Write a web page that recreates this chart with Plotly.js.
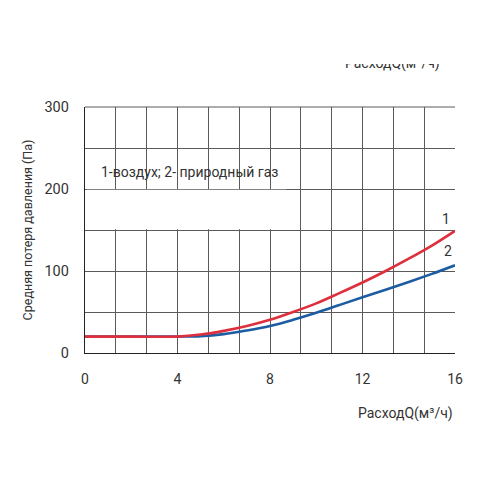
<!DOCTYPE html>
<html>
<head>
<meta charset="utf-8">
<script src="https://cdn.plot.ly/plotly-3.0.1.min.js"></script>
<style>html,body{margin:0;padding:0;background:#fff;}#chart{width:500px;height:500px;}</style>
</head>
<body>
<div id="chart"></div>
<script>
// Flow rate Q (m3/h)
const flowQ = [0, 2, 4, 5, 6, 7, 8, 9, 10, 11, 12, 13, 14, 15, 16];
// Curve 1 - air (Pa)
const airLoss = [20, 20, 20, 22.5, 27, 33, 40.5, 50, 60.5, 73, 86, 100, 115, 131, 149];
// Curve 2 - natural gas (Pa)
const gasLoss = [20, 20, 20, 20.5, 23, 27.5, 33, 40.5, 49, 58.5, 68, 77, 86.5, 96.5, 107];
const xTickVals = [0, 4, 8, 12, 16];
const xTickText = ['0', '4', '8', '12', '16'];
const yTickVals = [0, 100, 200, 300];
const yTickText = ['0', '100', '200', '300'];
const xTitle = 'РасходQ(м³/ч)';
const yTitle = 'Средняя потеря давления (Па)';
const legendNote = '1-воздух; 2- природный газ';

const F = 'Roboto, "Noto Sans", sans-serif';
const txt = '#333333';
const gridC = '#5a5a5a';

const traces = [
  {x: flowQ, y: gasLoss, mode: 'lines', line: {color: '#1c5ca2', width: 2.6, shape: 'spline'}, hoverinfo: 'skip'},
  {x: flowQ, y: airLoss, mode: 'lines', line: {color: '#de2f3d', width: 2.6, shape: 'spline'}, hoverinfo: 'skip'}
];

const layout = {
  width: 500, height: 500,
  margin: {l: 85, r: 45, t: 107, b: 147},
  paper_bgcolor: '#fff', plot_bgcolor: '#fff',
  showlegend: false,
  font: {family: F, size: 14, color: txt},
  xaxis: {
    range: [0, 16], tickmode: 'array', tickvals: xTickVals, ticktext: xTickText,
    showgrid: true, gridcolor: gridC, gridwidth: 1,
    minor: {dtick: 4/3, tick0: 0, showgrid: true, gridcolor: gridC, gridwidth: 1},
    showline: true, linecolor: '#222', linewidth: 1.2, mirror: false,
    zeroline: false, ticks: '', ticklabelstandoff: 13,
    tickfont: {family: F, size: 14, color: txt}
  },
  yaxis: {
    range: [0, 300], tickmode: 'array', tickvals: yTickVals, ticktext: yTickText,
    showgrid: true, gridcolor: gridC, gridwidth: 1,
    minor: {dtick: 50, tick0: 0, showgrid: true, gridcolor: gridC, gridwidth: 1},
    showline: true, linecolor: '#222', linewidth: 1.2,
    zeroline: false, ticks: '', ticklabelstandoff: 12,
    tickfont: {family: F, size: 14.5, color: txt},
    title: {text: yTitle, font: {family: F, size: 12.5, color: txt}, standoff: 9}
  },
  shapes: [
    {type: 'line', xref: 'paper', yref: 'paper', x0: 0, x1: 1, y0: 1, y1: 1, line: {color: gridC, width: 1}},
    {type: 'rect', xref: 'x', yref: 'y', x0: 0.06, x1: 8.7, y0: 151, y1: 199, fillcolor: '#fff', line: {width: 0}, layer: 'above'}
  ],
  annotations: [
    {text: legendNote, xref: 'paper', yref: 'paper', x: 14/370, y: (353-172)/246, xanchor: 'left', yanchor: 'middle', showarrow: false, font: {family: F, size: 14, color: txt}},
    {text: '1', xref: 'x', yref: 'y', x: 15.6, y: 164, showarrow: false, font: {family: F, size: 14, color: txt}},
    {text: '2', xref: 'x', yref: 'y', x: 15.7, y: 124, showarrow: false, font: {family: F, size: 14, color: txt}},
    {text: xTitle, xref: 'paper', yref: 'paper', x: 1, y: (353-413)/246, xanchor: 'right', yanchor: 'middle', showarrow: false, font: {family: F, size: 14, color: txt}},
    {text: xTitle, xref: 'paper', yref: 'paper', x: (442-85)/370, y: (353-74)/246, xanchor: 'right', yanchor: 'bottom', height: 8, valign: 'bottom', showarrow: false, font: {family: F, size: 14, color: txt}}
  ]
};

Plotly.newPlot('chart', traces, layout, {staticPlot: true, displayModeBar: false});
</script>
</body>
</html>
